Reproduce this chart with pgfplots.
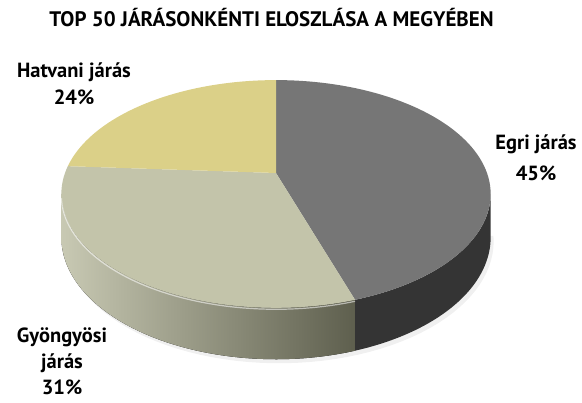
\documentclass[border=0pt]{standalone}
\usepackage{fontspec}
\setmainfont{PT Sans}
\usepackage{pgfplots}
\pgfplotsset{compat=1.18}
\usepgfplotslibrary{fillbetween}

\definecolor{egri}{HTML}{767676}
\definecolor{egriside}{HTML}{343434}
\definecolor{gyo}{HTML}{C3C4AA}
\definecolor{gyoL}{HTML}{C8C9B3}
\definecolor{gyoR}{HTML}{5E5F4E}
\definecolor{hat}{HTML}{DBD088}

% data (percent)
\def\egriP{45}
\def\gyoP{31}
\def\hatP{24}

% geometry of the 3D pie (pixel units)
\def\cx{276}\def\cy{173}\def\RA{211}\def\RB{110}\def\kk{0.184}\def\DD{42}

\begin{document}
\begin{tikzpicture}
\pgfmathsetmacro{\aA}{90}
\pgfmathsetmacro{\aB}{90-3.6*\egriP}
\pgfmathsetmacro{\aC}{\aB-3.6*\gyoP}
\pgfmathsetmacro{\aD}{\aC-3.6*\hatP}
\begin{axis}[
  name=pie,
  scale only axis, width=582pt, height=403pt,
  xmin=0, xmax=582, ymin=0, ymax=403, y dir=reverse,
  hide axis, clip=false, no markers,
  fill between/on layer=main,
]
% shadow
\addplot[fill=black!6, draw=none, domain=-172:-8, samples=60, variable=\t]
  ({\cx+3+\RA*cos(t)/(1+\kk*sin(t))},{\cy+4-\RB*sin(t)/(1+\kk*sin(t))+\DD/(1+\kk*sin(t))}) -- cycle;
% sides
\addplot[draw=none, name path=gt, domain=-169.4:\aB, samples=50, variable=\t]
  ({\cx+\RA*cos(t)/(1+\kk*sin(t))},{\cy-\RB*sin(t)/(1+\kk*sin(t))});
\addplot[draw=none, name path=gb, domain=-169.4:\aB, samples=50, variable=\t]
  ({\cx+\RA*cos(t)/(1+\kk*sin(t))},{\cy-\RB*sin(t)/(1+\kk*sin(t))+\DD/(1+\kk*sin(t))});
\addplot[left color=gyoL, right color=gyoR, draw=none] fill between[of=gt and gb];
\addplot[draw=none, name path=et, domain=\aB:-10.6, samples=40, variable=\t]
  ({\cx+\RA*cos(t)/(1+\kk*sin(t))},{\cy-\RB*sin(t)/(1+\kk*sin(t))});
\addplot[draw=none, name path=eb, domain=\aB:-10.6, samples=40, variable=\t]
  ({\cx+\RA*cos(t)/(1+\kk*sin(t))},{\cy-\RB*sin(t)/(1+\kk*sin(t))+\DD/(1+\kk*sin(t))});
\addplot[fill=egriside, draw=none] fill between[of=et and eb];
% top faces
\addplot[fill=egri, draw=none, domain=\aB:\aA, samples=80, variable=\t]
  ({\cx+\RA*cos(t)/(1+\kk*sin(t))},{\cy-\RB*sin(t)/(1+\kk*sin(t))}) -- (axis cs:\cx,\cy) -- cycle;
\addplot[fill=gyo, draw=none, domain=\aC:\aB, samples=60, variable=\t]
  ({\cx+\RA*cos(t)/(1+\kk*sin(t))},{\cy-\RB*sin(t)/(1+\kk*sin(t))}) -- (axis cs:\cx,\cy) -- cycle;
\addplot[fill=hat, draw=none, domain=\aD:\aC, samples=50, variable=\t]
  ({\cx+\RA*cos(t)/(1+\kk*sin(t))},{\cy-\RB*sin(t)/(1+\kk*sin(t))}) -- (axis cs:\cx,\cy) -- cycle;
% rim highlight
\addplot[white, opacity=0.55, line width=1.2pt, domain=-168:\aB, samples=50, variable=\t]
  ({\cx+\RA*cos(t)/(1+\kk*sin(t))},{\cy+1.5-\RB*sin(t)/(1+\kk*sin(t))});

% texts
\node[anchor=base, font=\fontsize{21}{24}\selectfont\bfseries] at (axis cs:271.5,27) {TOP 50 JÁRÁSONKÉNTI ELOSZLÁSA A MEGYÉBEN};
\begin{scope}[every node/.style={anchor=base, font=\fontsize{20.5}{24}\selectfont\bfseries, inner sep=0pt}]
\node at (axis cs:74,78) {Hatvani járás};
\node at (axis cs:74,105) {24\%};
\node at (axis cs:536,150) {Egri járás};
\node at (axis cs:536,181) {45\%};
\node at (axis cs:62,343) {Gyöngyösi};
\node at (axis cs:62,369) {járás};
\node at (axis cs:62,395) {31\%};
\end{scope}
\end{axis}
\pgfresetboundingbox
\path (pie.south west) rectangle (pie.north east);
\end{tikzpicture}
\end{document}
